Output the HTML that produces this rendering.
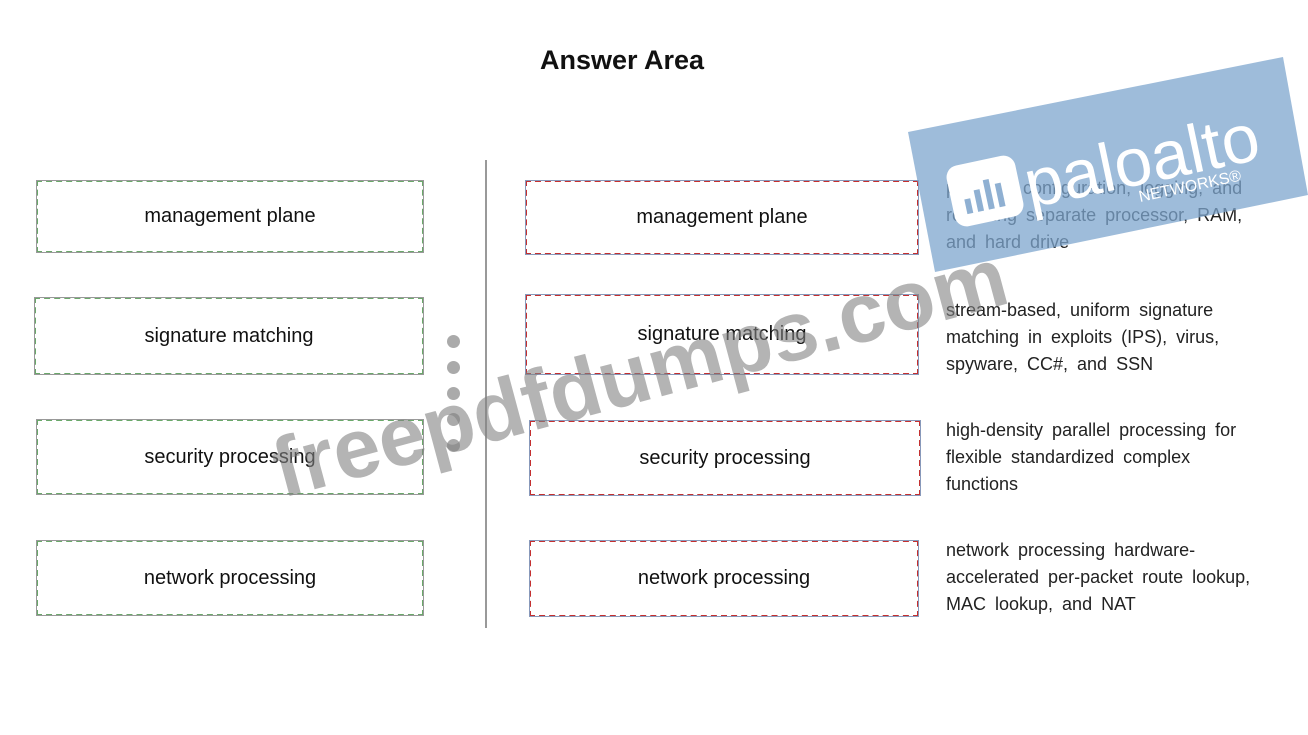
<!DOCTYPE html>
<html><head><meta charset="utf-8"><style>
body{margin:0;width:1308px;height:735px;background:#fff;position:relative;overflow:hidden;font-family:"Liberation Sans",sans-serif;}
.t{position:absolute;top:45px;left:540px;font-size:27px;font-weight:bold;color:#111;}
.b{position:absolute;box-sizing:border-box;border:2px dashed #6aa86a;outline:1px solid #999;outline-offset:-1px;display:flex;align-items:center;justify-content:center;font-size:20px;color:#111;}
.r{border:2px dashed #c43030;outline:1px solid #8899bb;}
.d{position:absolute;left:946px;font-size:18px;line-height:27px;color:#222;white-space:nowrap;word-spacing:4px;}
.dot{position:absolute;left:447px;width:13px;height:13px;border-radius:50%;background:#aaa;}
.v{position:absolute;left:485px;top:160px;width:2px;height:468px;background:#999;}
</style></head><body>
<div class="t">Answer Area</div>
<div class="b" style="left:36px;top:180px;width:388px;height:73px">management plane</div>
<div class="b" style="left:34px;top:297px;width:390px;height:78px">signature matching</div>
<div class="b" style="left:36px;top:419px;width:388px;height:76px">security processing</div>
<div class="b" style="left:36px;top:540px;width:388px;height:76px">network processing</div>
<div class="v"></div>
<div class="dot" style="top:335px"></div><div class="dot" style="top:361px"></div><div class="dot" style="top:387px"></div><div class="dot" style="top:413px"></div><div class="dot" style="top:439px"></div>
<div class="b r" style="left:525px;top:180px;width:394px;height:75px">management plane</div>
<div class="b r" style="left:525px;top:294px;width:394px;height:81px">signature matching</div>
<div class="b r" style="left:529px;top:420px;width:392px;height:76px">security processing</div>
<div class="b r" style="left:529px;top:540px;width:390px;height:77px">network processing</div>
<div class="d" style="top:175px">provides configuration, logging, and<br>reporting separate processor, RAM,<br>and hard drive</div>
<div class="d" style="top:297px">stream-based, uniform signature<br>matching in exploits (IPS), virus,<br>spyware, CC#, and SSN</div>
<div class="d" style="top:417px">high-density parallel processing for<br>flexible standardized complex<br>functions</div>
<div class="d" style="top:537px">network processing hardware-<br>accelerated per-packet route lookup,<br>MAC lookup, and NAT</div>
<svg style="position:absolute;left:0;top:0" width="1308" height="735">
<text x="282" y="498" font-family="Liberation Sans,sans-serif" font-weight="bold" font-size="84" fill="rgba(130,130,130,0.6)" transform="rotate(-15 282 498)">freepdfdumps.com</text>
<polygon points="908,132 1283,57 1308,195 935,272" fill="rgba(125,165,205,0.75)"/>
<g transform="rotate(-12 985 191)">
<rect x="950" y="160" width="70" height="62" rx="12" fill="#fff"/>
<rect x="963" y="195" width="6" height="15" fill="#8fb0d2"/><rect x="974" y="188" width="6" height="22" fill="#8fb0d2"/><rect x="985" y="180" width="6" height="30" fill="#8fb0d2"/><rect x="996" y="186" width="6" height="24" fill="#8fb0d2"/>
</g>
<text x="1030" y="208" font-family="Liberation Sans,sans-serif" font-size="68" fill="#fff" transform="rotate(-12 1030 208)">paloalto</text>
<text x="1140" y="202" font-family="Liberation Sans,sans-serif" font-size="16" fill="#fff" transform="rotate(-12 1140 202)">NETWORKS®</text>
</svg>
</body></html>
